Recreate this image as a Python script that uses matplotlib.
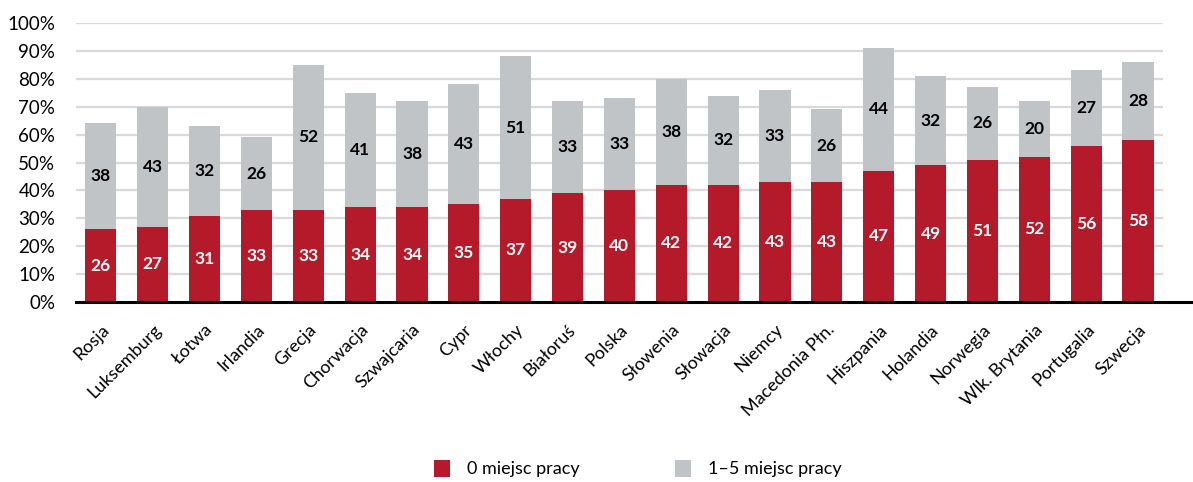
import matplotlib
matplotlib.use("Agg")
import matplotlib.pyplot as plt
from matplotlib.patches import Patch
from matplotlib.ticker import FuncFormatter

countries = ["Rosja", "Luksemburg", "Łotwa", "Irlandia", "Grecja", "Chorwacja",
             "Szwajcaria", "Cypr", "Włochy", "Białoruś", "Polska", "Słowenia",
             "Słowacja", "Niemcy", "Macedonia Płn.", "Hiszpania", "Holandia",
             "Norwegia", "Wlk. Brytania", "Portugalia", "Szwecja"]
zero_jobs = [26, 27, 31, 33, 33, 34, 34, 35, 37, 39, 40, 42, 42, 43, 43, 47, 49, 51, 52, 56, 58]
one_to_five = [38, 43, 32, 26, 52, 41, 38, 43, 51, 33, 33, 38, 32, 33, 26, 44, 32, 26, 20, 27, 28]

series_labels = ["0 miejsc pracy", "1–5 miejsc pracy"]
yticks = [0, 10, 20, 30, 40, 50, 60, 70, 80, 90, 100]

RED = "#B51A2A"
GREY = "#C1C4C7"

plt.rcParams["font.family"] = ["Lato", "DejaVu Sans"]

fig = plt.figure(figsize=(11.93, 4.82), dpi=100)
ax = fig.add_axes([76 / 1193, 1 - 302 / 482, (1193 - 76) / 1193, (302 - 23) / 482])

n = len(countries)
x = list(range(n))
ax.set_xlim(-0.48, n + 0.06)
ax.set_ylim(0, 100)

# horizontal gridlines
ax.hlines(yticks[1:], -0.48, n - 0.52, colors="#D9D9D9", linewidth=1.6, zorder=0)

width = 0.6
ax.bar(x, zero_jobs, width=width, color=RED, zorder=2)
ax.bar(x, one_to_five, width=width, bottom=zero_jobs, color=GREY, zorder=2)

for i in x:
    ax.text(i, zero_jobs[i] / 2, f"{zero_jobs[i]}", ha="center", va="center",
            color="white", fontsize=12.5, fontweight="bold", zorder=3)
    ax.text(i, zero_jobs[i] + one_to_five[i] / 2, f"{one_to_five[i]}", ha="center",
            va="center", color="black", fontsize=12.5, fontweight="bold", zorder=3)

ax.set_yticks(yticks)
ax.yaxis.set_major_formatter(FuncFormatter(lambda v, p: f"{int(v)}%"))
ax.tick_params(axis="y", length=0, labelsize=13.5, pad=15)
ax.set_xticks(x)
ax.set_xticklabels(countries, rotation=45, ha="right", va="top",
                   rotation_mode="anchor", fontsize=13)
ax.tick_params(axis="x", length=0, pad=14)

for s in ["top", "right", "left"]:
    ax.spines[s].set_visible(False)
ax.spines["bottom"].set_linewidth(2.2)
ax.spines["bottom"].set_color("black")
ax.spines["bottom"].set_zorder(4)

handles = [Patch(facecolor=RED), Patch(facecolor=GREY)]
fig.legend(handles, series_labels, loc="center", bbox_to_anchor=(0.5345, 0.028),
           ncol=2, frameon=False, fontsize=13, columnspacing=5.3,
           handlelength=0.9, handleheight=1.1, handletextpad=0.9)

fig.savefig("out.png", dpi=100)
